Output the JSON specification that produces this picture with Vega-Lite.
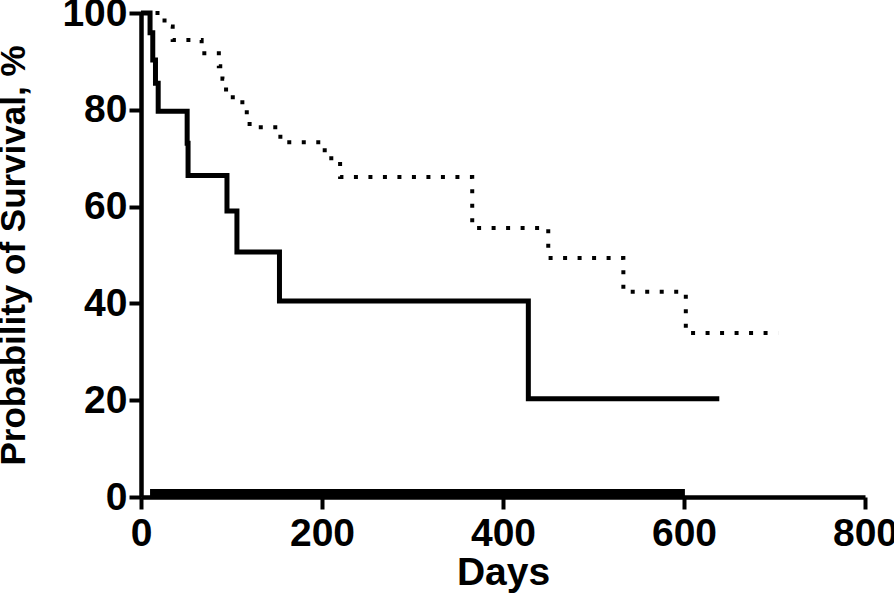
{
  "$schema": "https://vega.github.io/schema/vega-lite/v6.json",
  "autosize": "none",
  "width": 724,
  "height": 484,
  "padding": {"left": 141, "top": 13, "right": 29, "bottom": 116},
  "background": "white",
  "config": {
    "view": {"stroke": null},
    "font": "Liberation Sans",
    "axis": {
      "domainColor": "black",
      "domainWidth": 4.5,
      "tickColor": "black",
      "tickWidth": 4,
      "tickSize": 12,
      "grid": false,
      "labelFlush": false,
      "labelOverlap": false,
      "labelBound": false,
      "labelFont": "Liberation Sans",
      "labelFontWeight": "bold",
      "labelFontSize": 39,
      "labelColor": "black",
      "titleFont": "Liberation Sans",
      "titleFontWeight": "bold",
      "titleFontSize": 39,
      "titleColor": "black"
    }
  },
  "datasets": {
    "km": [
      {"group": "solid", "day": 0, "surv": 100},
      {"group": "solid", "day": 10, "surv": 95.9},
      {"group": "solid", "day": 13, "surv": 90.3},
      {"group": "solid", "day": 16, "surv": 85.5},
      {"group": "solid", "day": 19, "surv": 79.7},
      {"group": "solid", "day": 51, "surv": 73.1},
      {"group": "solid", "day": 52, "surv": 66.4},
      {"group": "solid", "day": 95, "surv": 59.1},
      {"group": "solid", "day": 106, "surv": 50.6},
      {"group": "solid", "day": 153, "surv": 40.5},
      {"group": "solid", "day": 428, "surv": 20.3},
      {"group": "solid", "day": 639, "surv": 20.3},
      {"group": "dotted", "day": 0, "surv": 100},
      {"group": "dotted", "day": 26, "surv": 97.2},
      {"group": "dotted", "day": 35, "surv": 94.4},
      {"group": "dotted", "day": 67, "surv": 91.7},
      {"group": "dotted", "day": 86, "surv": 89.0},
      {"group": "dotted", "day": 90, "surv": 86.4},
      {"group": "dotted", "day": 94, "surv": 82.6},
      {"group": "dotted", "day": 112, "surv": 79.5},
      {"group": "dotted", "day": 120, "surv": 76.4},
      {"group": "dotted", "day": 154, "surv": 73.3},
      {"group": "dotted", "day": 203, "surv": 70.0},
      {"group": "dotted", "day": 220, "surv": 66.1},
      {"group": "dotted", "day": 366, "surv": 55.6},
      {"group": "dotted", "day": 450, "surv": 49.4},
      {"group": "dotted", "day": 533, "surv": 42.4},
      {"group": "dotted", "day": 602, "surv": 33.9},
      {"group": "dotted", "day": 704, "surv": 33.9},
      {"group": "zero", "day": 10, "surv": 0},
      {"group": "zero", "day": 601, "surv": 0}
    ]
  },
  "data": {"name": "km"},
  "encoding": {
    "x": {
      "field": "day", "type": "quantitative",
      "scale": {"domain": [0, 800], "nice": false, "zero": true},
      "axis": {"values": [0, 200, 400, 600, 800], "title": "Days", "labelPadding": 5, "titlePadding": 0}
    },
    "y": {
      "field": "surv", "type": "quantitative",
      "scale": {"domain": [0, 100], "nice": false},
      "axis": {"values": [0, 20, 40, 60, 80, 100], "title": "Probability of Survival, %", "titleFontSize": 35, "labelPadding": 2, "titlePadding": 30}
    }
  },
  "layer": [
    {
      "transform": [{"filter": "datum.group === 'zero'"}],
      "mark": {"type": "line", "color": "black", "strokeWidth": 8, "yOffset": -4, "strokeCap": "butt"}
    },
    {
      "transform": [{"filter": "datum.group === 'solid'"}],
      "mark": {"type": "line", "color": "black", "strokeWidth": 5, "interpolate": "step-after", "strokeCap": "butt"}
    },
    {
      "transform": [{"filter": "datum.group === 'dotted'"}],
      "mark": {"type": "line", "color": "black", "strokeWidth": 4, "interpolate": "step-after", "strokeDash": [4, 10.5], "strokeCap": "butt"}
    }
  ]
}
